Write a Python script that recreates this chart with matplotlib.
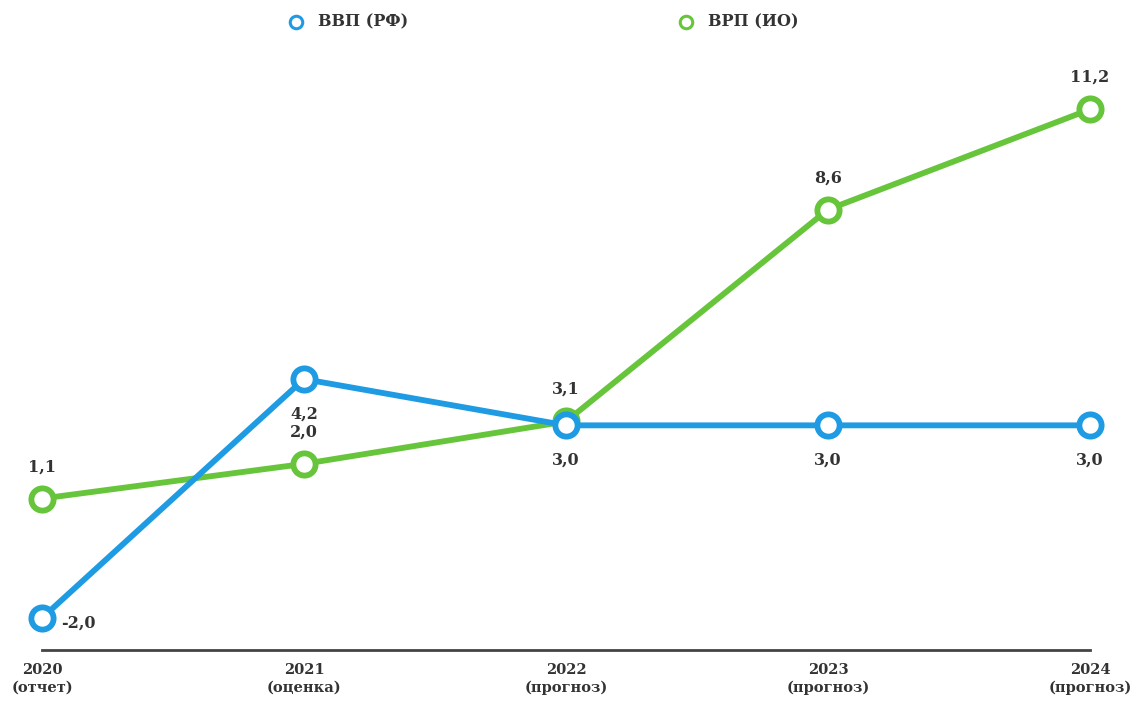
import matplotlib.pyplot as plt
from matplotlib.lines import Line2D

# data
years = ['2020\n(отчет)', '2021\n(оценка)', '2022\n(прогноз)', '2023\n(прогноз)', '2024\n(прогноз)']
gdp_rf = [-2.0, 4.2, 3.0, 3.0, 3.0]
grp_io = [1.1, 2.0, 3.1, 8.6, 11.2]
gdp_labels = ['-2,0', '4,2', '3,0', '3,0', '3,0']
grp_labels = ['1,1', '2,0', '3,1', '8,6', '11,2']

blue = '#1e9be3'
green = '#67c53b'
txt = '#333333'
font = 'DejaVu Serif'

fig = plt.figure(figsize=(11.33, 7.02), dpi=100)
ax = fig.add_axes([42 / 1133, 52 / 702, (1090 - 42) / 1133, 610 / 702])

x = range(len(years))
ax.plot(x, grp_io, color=green, lw=4.2, marker='o', ms=16, mfc='white',
        mec=green, mew=4.2, clip_on=False, zorder=3)
ax.plot(x, gdp_rf, color=blue, lw=4.2, marker='o', ms=16, mfc='white',
        mec=blue, mew=4.2, clip_on=False, zorder=4)

for i, (v, s) in enumerate(zip(grp_io, grp_labels)):
    ax.annotate(s, (i, v), xytext=(0, 23), textcoords='offset points',
                ha='center', va='center', fontsize=11.5, family=font,
                fontweight='bold', color=txt)
for i, (v, s) in enumerate(zip(gdp_rf, gdp_labels)):
    if i == 0:
        # keep clear of the x tick label
        off, ha = (14, -4), 'left'
    else:
        off, ha = (0, -25), 'center'
    ax.annotate(s, (i, v), xytext=off, textcoords='offset points',
                ha=ha, va='center', fontsize=11.5, family=font,
                fontweight='bold', color=txt)

ax.set_xlim(0, 4)
ax.set_ylim(-2.83, 13.0)
for side in ['top', 'right', 'left']:
    ax.spines[side].set_visible(False)
ax.spines['bottom'].set_color('#444444')
ax.spines['bottom'].set_linewidth(2)
ax.set_yticks([])
ax.set_xticks(list(x))
ax.set_xticklabels(years, family=font, fontweight='bold', fontsize=10.5,
                   color=txt, linespacing=1.4)
ax.tick_params(axis='x', length=0, pad=9)

# legend
fig.add_artist(Line2D([296 / 1133], [1 - 22 / 702], marker='o', ms=9, mfc='white',
                      mec=blue, mew=2.2, transform=fig.transFigure))
fig.text(318 / 1133, 1 - 22 / 702, 'ВВП (РФ)', family=font, fontweight='bold',
         fontsize=11.5, color=txt, va='center')
fig.add_artist(Line2D([686 / 1133], [1 - 22 / 702], marker='o', ms=9, mfc='white',
                      mec=green, mew=2.2, transform=fig.transFigure))
fig.text(708 / 1133, 1 - 22 / 702, 'ВРП (ИО)', family=font, fontweight='bold',
         fontsize=11.5, color=txt, va='center')

fig.savefig('out.png', dpi=100)
